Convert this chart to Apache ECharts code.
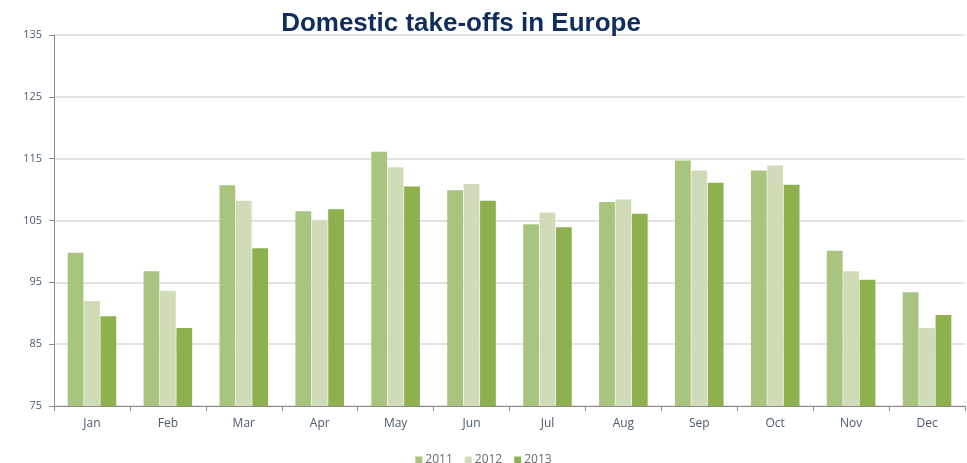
<!DOCTYPE html>
<html>
<head>
<meta charset="utf-8">
<script src="https://cdn.jsdelivr.net/npm/echarts@6/dist/echarts.min.js"></script>
<style>
  html, body { margin: 0; padding: 0; background: #ffffff; }
  #chart { width: 967px; height: 463px; }
</style>
</head>
<body>
<div id="chart"></div>
<script>
// Monthly domestic take-off index per year
const months = ['Jan', 'Feb', 'Mar', 'Apr', 'May', 'Jun', 'Jul', 'Aug', 'Sep', 'Oct', 'Nov', 'Dec'];
const values2011 = [99.8, 96.8, 110.7, 106.5, 116.1, 109.9, 104.4, 108.0, 114.7, 113.1, 100.1, 93.4];
const values2012 = [92.0, 93.6, 108.2, 105.1, 113.6, 110.9, 106.3, 108.4, 113.1, 113.9, 96.8, 87.6];
const values2013 = [89.5, 87.6, 100.5, 106.8, 110.5, 108.2, 103.9, 106.1, 111.1, 110.8, 95.4, 89.7];
const yTicks = [75, 85, 95, 105, 115, 125, 135];

const chart = echarts.init(document.getElementById('chart'));

function barSeries(name, data, color) {
  return {
    name: name,
    type: 'bar',
    data: data,
    barGap: '4%',
    barCategoryGap: '36%',
    itemStyle: { color: color },
    emphasis: { disabled: true }
  };
}

chart.setOption({
  animation: false,
  title: {
    text: 'Domestic take-offs in Europe',
    left: 456,
    textAlign: 'center',
    top: 6,
    textStyle: {
      fontFamily: 'Liberation Sans, Arial, sans-serif',
      fontSize: 26,
      fontWeight: 'bold',
      color: '#0f2d5e'
    }
  },
  grid: { left: 54, right: 2, top: 35, bottom: 57 },
  legend: {
    top: 449,
    left: 'center',
    itemWidth: 7,
    itemHeight: 7,
    itemGap: 12,
    icon: 'rect',
    textStyle: { color: '#6b6b6b', fontSize: 12, fontFamily: 'Open Sans, sans-serif', padding: [0, 0, 0, -2] },
    data: ['2011', '2012', '2013']
  },
  xAxis: {
    type: 'category',
    data: months,
    axisLine: { lineStyle: { color: '#8c8c8c', width: 1 } },
    axisTick: { show: true, length: 5, lineStyle: { color: '#8c8c8c' } },
    axisLabel: { color: '#4a5a6e', fontSize: 12, margin: 12, fontFamily: 'Open Sans, sans-serif' }
  },
  yAxis: {
    type: 'value',
    min: yTicks[0],
    max: yTicks[yTicks.length - 1],
    interval: 10,
    axisLine: { show: true, lineStyle: { color: '#8c8c8c' } },
    axisTick: { show: true, length: 5, lineStyle: { color: '#8c8c8c' } },
    splitLine: { lineStyle: { color: '#d9d9d9', width: 1.5 } },
    axisLabel: { color: '#4a5a6e', fontSize: 11, margin: 12, fontFamily: 'Open Sans, sans-serif' }
  },
  series: [
    barSeries('2011', values2011, '#a9c47f'),
    barSeries('2012', values2012, '#cfdcb7'),
    barSeries('2013', values2013, '#8fb04f')
  ]
});
</script>
</body>
</html>
